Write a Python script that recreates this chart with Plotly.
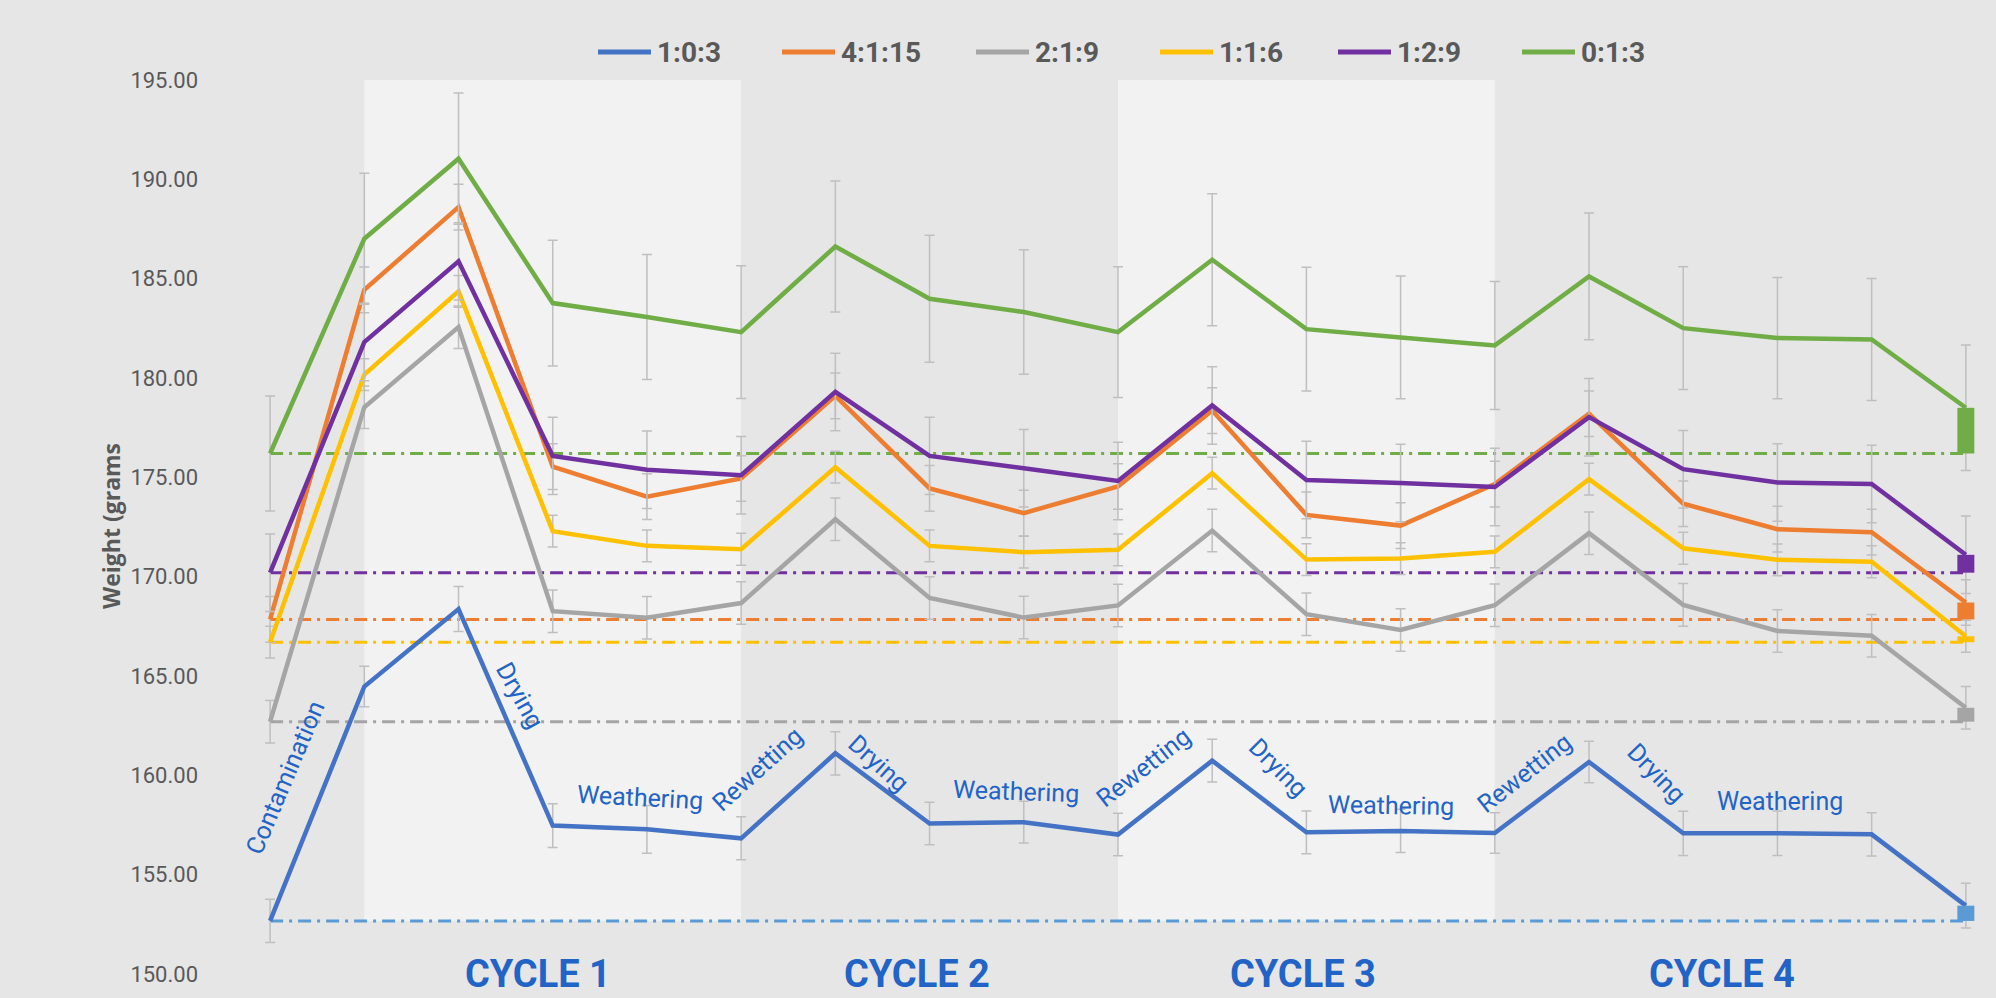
import plotly.graph_objects as go

# ---- data -------------------------------------------------------------
steps = list(range(19))  # measurement steps: contamination, 4 cycles, final

series_names = ["1:0:3", "4:1:15", "2:1:9", "1:1:6", "1:2:9", "0:1:3"]

w_1_0_3 = [152.67, 164.47, 168.37, 157.47, 157.28, 156.83, 161.11, 157.57, 157.64, 157.02,
           160.74, 157.13, 157.20, 157.10, 160.67, 157.08, 157.08, 157.03, 153.44]
w_4_1_15 = [167.85, 184.44, 188.60, 175.54, 174.03, 174.94, 179.10, 174.44, 173.20, 174.54,
            178.36, 173.11, 172.57, 174.66, 178.20, 173.67, 172.39, 172.24, 168.70]
w_2_1_9 = [162.70, 178.53, 182.56, 168.26, 167.93, 168.67, 172.89, 168.93, 167.94, 168.55,
           172.32, 168.11, 167.32, 168.56, 172.19, 168.58, 167.27, 167.03, 163.40]
w_1_1_6 = [166.70, 180.17, 184.36, 172.29, 171.55, 171.38, 175.51, 171.55, 171.23, 171.35,
           175.21, 170.86, 170.91, 171.25, 174.91, 171.43, 170.85, 170.75, 167.00]
w_1_2_9 = [170.20, 181.81, 185.87, 176.08, 175.38, 175.11, 179.30, 176.08, 175.46, 174.82,
           178.62, 174.87, 174.71, 174.51, 178.03, 175.41, 174.74, 174.67, 171.10]
w_0_1_3 = [176.20, 187.01, 191.04, 183.77, 183.07, 182.31, 186.62, 183.99, 183.32, 182.31,
           185.95, 182.46, 182.04, 181.64, 185.11, 182.51, 182.01, 181.94, 178.50]

sd_1_0_3 = [1.09, 1.02, 1.13, 1.10, 1.20, 1.08, 1.09, 1.07, 1.05, 1.07,
            1.07, 1.08, 1.09, 1.02, 1.04, 1.11, 1.12, 1.09, 1.13]
sd_4_1_15 = [1.15] * 19
sd_2_1_9 = [1.07] * 19
sd_1_1_6 = [0.80] * 19
sd_1_2_9 = [1.95] * 19
sd_0_1_3 = [2.90, 3.30, 3.30, 3.17, 3.15, 3.34, 3.30, 3.20, 3.13, 3.29,
            3.32, 3.12, 3.09, 3.22, 3.19, 3.09, 3.05, 3.07, 3.16]

weights = [w_1_0_3, w_4_1_15, w_2_1_9, w_1_1_6, w_1_2_9, w_0_1_3]
errors = [sd_1_0_3, sd_4_1_15, sd_2_1_9, sd_1_1_6, sd_1_2_9, sd_0_1_3]

y_ticks = [150, 155, 160, 165, 170, 175, 180, 185, 190, 195]

cycle_names = ["CYCLE 1", "CYCLE 2", "CYCLE 3", "CYCLE 4"]
cycle_spans = [(1, 5), (5, 9), (9, 13), (13, 17)]
cycle_label_x = [2.84, 6.87, 10.96, 15.41]

# phase labels along the 1:0:3 curve: text, step position, weight, angle
phase_labels = [
    ("Contamination", 0.16, 159.9, -67),
    ("Drying", 2.65, 164.0, 61),
    ("Weathering", 3.93, 158.9, 3),
    ("Rewetting", 5.17, 160.3, -42),
    ("Drying", 6.46, 160.6, 42),
    ("Weathering", 7.92, 159.2, 2),
    ("Rewetting", 9.27, 160.4, -38),
    ("Drying", 10.70, 160.4, 45),
    ("Weathering", 11.90, 158.5, 1),
    ("Rewetting", 13.31, 160.1, -38),
    ("Drying", 14.72, 160.1, 46),
    ("Weathering", 16.03, 158.7, 0),
]

# ---- styling ----------------------------------------------------------
W, H = 1996, 998
M_L, M_R, M_T, M_B = 223, 0, 80, 24
line_colors = ["#4472C4", "#ED7D31", "#A5A5A5", "#FFC000", "#7030A0", "#70AD47"]
base_colors = ["#5B9BD5", "#ED7D31", "#A5A5A5", "#FFC000", "#7030A0", "#70AD47"]
BG = "#E6E6E6"
BAND = "#F2F2F2"
TEXT_GREY = "#595959"
LABEL_BLUE = "#2263C6"
FONT = "Roboto, Liberation Sans, sans-serif"


def px_x(px):
    return (px - M_L) / (W - M_L - M_R)


def px_y(py):
    return (H - M_B - py) / (H - M_T - M_B)


fig = go.Figure()

# dash-dot reference line at each mixture's starting weight
for vals, col in zip(weights, base_colors):
    fig.add_trace(go.Scatter(
        x=[steps[0], steps[-1]], y=[vals[0], vals[0]], mode="lines",
        line=dict(color=col, width=3, dash="13px,6px,3px,6px"),
        hoverinfo="skip", showlegend=False,
    ))

# weight curves with standard deviation bars
for name, vals, err, col in zip(series_names, weights, errors, line_colors):
    fig.add_trace(go.Scatter(
        x=steps, y=vals, name=name, mode="lines",
        line=dict(color=col, width=4.5),
        error_y=dict(type="data", array=err, color="#BFBFBF", thickness=1.5, width=5),
        showlegend=False,
    ))

# net change marker at the last step (from starting weight to final weight)
for vals, col in zip(weights, base_colors):
    fig.add_trace(go.Scatter(
        x=[steps[-1], steps[-1]], y=[vals[0], vals[-1]], mode="lines",
        line=dict(color=col, width=17),
        hoverinfo="skip", showlegend=False,
    ))

shapes = []
annotations = []

# light background for cycles 1 and 3
for i, (x0, x1) in enumerate(cycle_spans):
    if i % 2 == 0:
        shapes.append(dict(type="rect", xref="x", yref="y", x0=x0, x1=x1,
                           y0=w_1_0_3[0], y1=195, fillcolor=BAND, line_width=0,
                           layer="below"))

for name, xc in zip(cycle_names, cycle_label_x):
    annotations.append(dict(
        text=f"<b>{name}</b>", x=xc, y=px_y(974), xref="x", yref="paper",
        xanchor="center", yanchor="middle", showarrow=False,
        font=dict(family=FONT, size=38, color=LABEL_BLUE),
    ))

for text, xs, yv, ang in phase_labels:
    annotations.append(dict(
        text=text, x=xs, y=yv, xref="x", yref="y", xanchor="center", yanchor="middle",
        textangle=ang, showarrow=False,
        font=dict(family=FONT, size=25, color=LABEL_BLUE),
    ))

# legend row across the top
legend_line_start = [598, 782, 976, 1160, 1338, 1522]
for name, col, x0 in zip(series_names, line_colors, legend_line_start):
    shapes.append(dict(type="line", xref="paper", yref="paper",
                       x0=px_x(x0), x1=px_x(x0 + 53), y0=px_y(52), y1=px_y(52),
                       line=dict(color=col, width=5)))
    annotations.append(dict(
        text=f"<b>{name}</b>", x=px_x(x0 + 57), y=px_y(53), xref="paper", yref="paper",
        xanchor="left", yanchor="middle", showarrow=False,
        font=dict(family=FONT, size=28, color=TEXT_GREY),
    ))

# y-axis title
annotations.append(dict(
    text="<b>Weight (grams</b>", x=px_x(111), y=px_y(526), xref="paper", yref="paper",
    xanchor="center", yanchor="middle", textangle=-90, showarrow=False,
    font=dict(family="Open Sans, sans-serif", size=23, color=TEXT_GREY),
))

fig.update_layout(
    width=W, height=H, autosize=False,
    margin=dict(l=M_L, r=M_R, t=M_T, b=M_B, pad=0),
    paper_bgcolor=BG, plot_bgcolor=BG,
    showlegend=False,
    shapes=shapes, annotations=annotations,
    xaxis=dict(range=[-0.5, 18.32], visible=False, showgrid=False, zeroline=False),
    yaxis=dict(range=[150, 195], tickvals=y_ticks, tickformat=".2f",
               showgrid=False, zeroline=False, showline=False, ticks="",
               ticklabelstandoff=24,
               tickfont=dict(family=FONT, size=22, color=TEXT_GREY)),
)

fig.write_html("out.html")
